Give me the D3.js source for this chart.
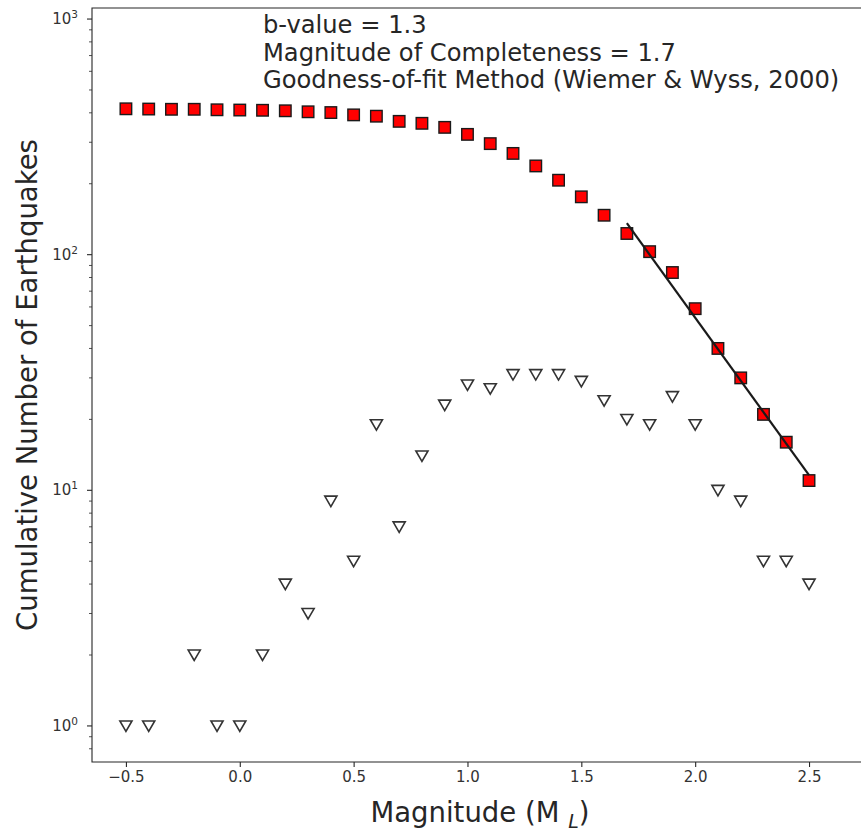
<!DOCTYPE html>
<html>
<head>
<meta charset="utf-8">
<script src="https://cdn.jsdelivr.net/npm/d3@7/dist/d3.min.js"></script>
<style>
  body { margin: 0; background: #fff; }
  svg { display: block; font-family: "DejaVu Sans", sans-serif; }
</style>
</head>
<body>
<svg width="861" height="831"></svg>
<script>
// magnitude bins
const magnitudes = [-0.5, -0.4, -0.3, -0.2, -0.1, 0.0, 0.1, 0.2, 0.3, 0.4, 0.5,
    0.6, 0.7, 0.8, 0.9, 1.0, 1.1, 1.2, 1.3, 1.4, 1.5, 1.6, 1.7, 1.8, 1.9, 2.0,
    2.1, 2.2, 2.3, 2.4, 2.5];
// cumulative number (red squares)
const cumulativeCounts = [416, 415, 414, 414, 412, 411, 410, 408, 404, 401, 392,
    387, 368, 361, 347, 324, 296, 269, 238, 207, 176, 147, 123, 103, 84, 59,
    40, 30, 21, 16, 11];
// number per bin (open triangles), 0 = nothing drawn
const binCounts = [1, 1, 0, 2, 1, 1, 2, 4, 3, 9, 5, 19, 7, 14, 23, 28, 27, 31,
    31, 31, 29, 24, 20, 19, 25, 19, 10, 9, 5, 5, 4];
// Gutenberg-Richter fit above Mc
const fitMagnitudes = [1.7, 2.5];
const fitCounts = [136, 11.6];

const xTicks = [-0.5, 0.0, 0.5, 1.0, 1.5, 2.0, 2.5];
const yTicks = [1, 10, 100, 1000];
const infoLines = ["b-value = 1.3", "Magnitude of Completeness = 1.7",
    "Goodness-of-fit Method (Wiemer & Wyss, 2000)"];

const svg = d3.select("svg");

// axes box
const plotLeft = 92, plotTop = 8, plotBottom = 762, plotRight = 868;

const x = d3.scaleLinear().domain([-0.649, 2.759]).range([plotLeft, plotRight]);
const y = d3.scaleLog().domain([0.703, 1114]).range([plotBottom, plotTop]);

const ink = "#262626";

// x axis
const xAxis = d3.axisBottom(x)
    .tickValues(xTicks)
    .tickSize(5)
    .tickPadding(4)
    .tickFormat(d => d3.format(".1f")(d).replace("-", "\u2212"));
const gx = svg.append("g")
    .attr("transform", "translate(0," + plotBottom + ")")
    .call(xAxis);
gx.select(".domain").remove();
gx.selectAll("line").attr("stroke", ink).attr("stroke-width", 1.1);
gx.selectAll("text").attr("fill", "#333").style("font-size", "15px")
    .style("font-family", "DejaVu Sans");

// y axis, major
const gy = svg.append("g").attr("transform", "translate(" + plotLeft + ",0)");
gy.selectAll("line.major").data(yTicks).enter().append("line")
    .attr("class", "major")
    .attr("x1", -5).attr("x2", 0)
    .attr("y1", d => y(d)).attr("y2", d => y(d))
    .attr("stroke", ink).attr("stroke-width", 1.1);

// minor ticks
let minor = [];
for (let dec of [0.1, 1, 10, 100, 1000]) {
    for (let k = 2; k <= 9; k++) {
        const v = dec * k;
        if (v > y.domain()[0] && v < y.domain()[1]) minor.push(v);
    }
}
gy.selectAll("line.minor").data(minor).enter().append("line")
    .attr("class", "minor")
    .attr("x1", -3).attr("x2", 0)
    .attr("y1", d => y(d)).attr("y2", d => y(d))
    .attr("stroke", ink).attr("stroke-width", 0.8);

const yLab = gy.selectAll("text.tick").data(yTicks).enter().append("text")
    .attr("class", "tick")
    .attr("x", -14)
    .attr("y", d => y(d) + 5)
    .attr("text-anchor", "end")
    .attr("fill", "#333")
    .style("font-size", "15px");
yLab.append("tspan").text("10");
yLab.append("tspan")
    .attr("dy", -6)
    .style("font-size", "10.5px")
    .text(d => Math.round(Math.log10(d)));

// frame (right side falls off the picture)
svg.append("path")
    .attr("d", `M${plotRight},${plotTop}H${plotLeft}V${plotBottom}H${plotRight}`)
    .attr("fill", "none")
    .attr("stroke", ink)
    .attr("stroke-width", 1.1);

// open triangles
const triPath = (s) => `M0,${s * 0.5}L${-s * 0.55},${-s * 0.45}L${s * 0.55},${-s * 0.45}Z`;
svg.append("g").selectAll("path")
    .data(magnitudes.map((m, i) => ({ m, n: binCounts[i] })).filter(d => d.n > 0))
    .enter().append("path")
    .attr("d", triPath(11))
    .attr("transform", d => "translate(" + x(d.m) + "," + y(d.n) + ")")
    .attr("fill", "#fff")
    .attr("stroke", "#333")
    .attr("stroke-width", 1.6);

// red squares
const sq = 11.5;
svg.append("g").selectAll("rect")
    .data(magnitudes.map((m, i) => ({ m, n: cumulativeCounts[i] })))
    .enter().append("rect")
    .attr("x", d => x(d.m) - sq / 2)
    .attr("y", d => y(d.n) - sq / 2)
    .attr("width", sq).attr("height", sq)
    .attr("fill", "#ff0000")
    .attr("stroke", "#1a1a1a")
    .attr("stroke-width", 1.4);

// fit line
const line = d3.line().x(d => x(d[0])).y(d => y(d[1]));
svg.append("path")
    .datum(fitMagnitudes.map((m, i) => [m, fitCounts[i]]))
    .attr("d", line)
    .attr("fill", "none")
    .attr("stroke", "#1a1a1a")
    .attr("stroke-width", 2.2);

// info text
svg.append("g").selectAll("text")
    .data(infoLines)
    .enter().append("text")
    .attr("x", 263)
    .attr("y", (d, i) => 33 + i * 27.5)
    .attr("fill", ink)
    .style("font-size", "24.2px")
    .text(d => d);

// axis labels
const xl = svg.append("text")
    .attr("x", (plotLeft + plotRight) / 2)
    .attr("y", 822)
    .attr("text-anchor", "middle")
    .attr("fill", ink)
    .style("font-size", "27.5px");
xl.append("tspan").text("Magnitude (M ");
xl.append("tspan").attr("dy", 6).style("font-size", "19px").style("font-style", "italic").text("L");
xl.append("tspan").attr("dy", -6).text(")");

svg.append("text")
    .attr("transform", "translate(37," + (plotTop + plotBottom) / 2 + ") rotate(-90)")
    .attr("text-anchor", "middle")
    .attr("fill", ink)
    .style("font-size", "27.5px")
    .text("Cumulative Number of Earthquakes");
</script>
</body>
</html>
